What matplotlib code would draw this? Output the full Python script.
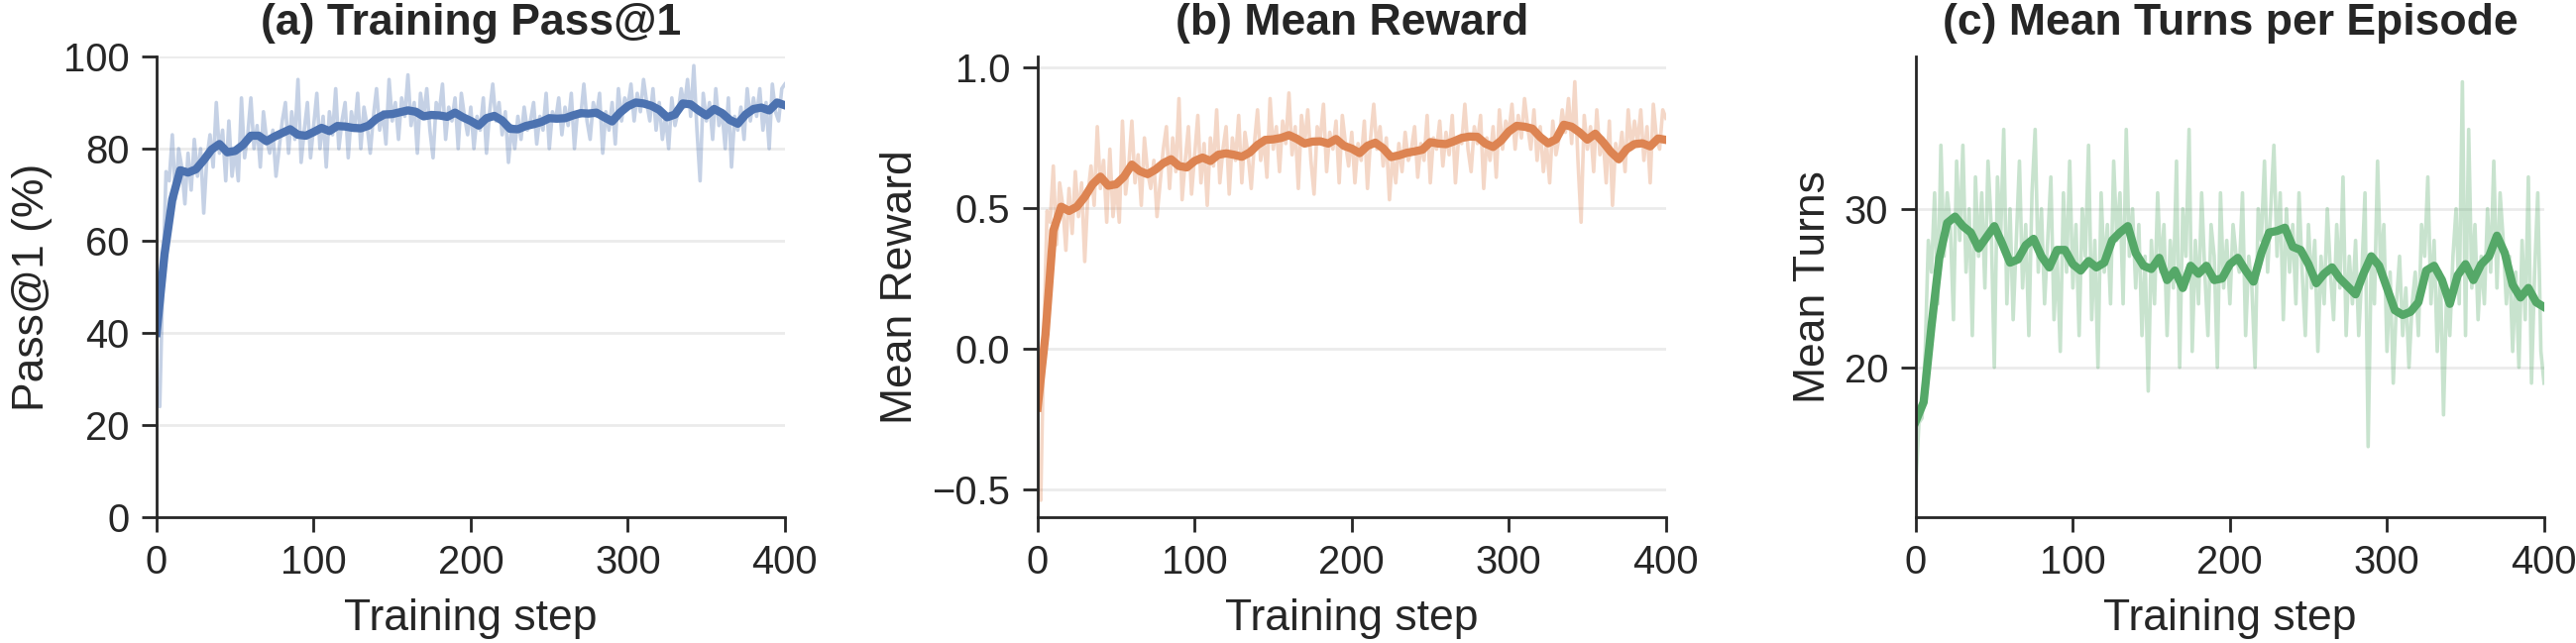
import numpy as np
import matplotlib
matplotlib.use('Agg')
import matplotlib.pyplot as plt

plt.rcParams['font.family'] = ['Liberation Sans', 'DejaVu Sans']

# raw values every 2 steps, smoothed curves every 5 steps
raw_steps = np.arange(0, 401, 2)
smooth_steps = np.arange(0, 401, 5)

pass_raw = [
    28, 24, 52, 75, 73, 83, 69, 80, 76, 68,
    79, 71, 82, 74, 80, 66, 78, 83, 76, 90,
    79, 84, 73, 86, 74, 80, 73, 91, 78, 83,
    91, 80, 85, 76, 88, 82, 79, 84, 74, 80,
    86, 90, 79, 88, 82, 95, 77, 84, 90, 78,
    85, 92, 80, 87, 76, 88, 83, 93, 80, 86,
    90, 78, 88, 84, 92, 80, 89, 85, 79, 87,
    93, 84, 88, 81, 95, 86, 90, 82, 91, 87,
    96, 85, 90, 79, 92, 87, 93, 84, 78, 90,
    88, 94, 82, 89, 86, 91, 80, 92, 87, 83,
    89, 80, 87, 84, 91, 79, 88, 94, 86, 90,
    83, 88, 77, 85, 80, 87, 82, 89, 84, 86,
    90, 81, 87, 84, 92, 80, 88, 86, 91, 83,
    89, 85, 92, 80, 88, 87, 94, 86, 82, 90,
    87, 92, 79, 88, 84, 90, 81, 93, 86, 91,
    89, 94, 86, 92, 88, 95, 90, 86, 93, 84,
    90, 82, 87, 80, 91, 85, 88, 93, 89, 95,
    87, 98, 84, 73, 92, 86, 90, 82, 93, 85,
    88, 80, 91, 76, 87, 84, 89, 82, 93, 86,
    91, 87, 93, 84, 90, 80, 94, 88, 86, 93,
    94,
]
pass_smooth = [
    40, 57, 69, 75.3, 74.8, 75.5, 77.5, 79.8, 81.0, 79.2,
    79.5, 80.8, 82.8, 82.8, 81.6, 82.6, 83.4, 84.2, 83.0, 82.8,
    83.6, 84.5, 83.8, 84.9, 84.8, 84.5, 84.4, 85.0, 86.5, 87.4,
    87.5, 87.9, 88.3, 88.0, 87.0, 87.3, 87.2, 86.9, 87.8, 86.8,
    86.0, 85.0, 86.6, 87.1, 86.1, 84.3, 84.2, 84.9, 85.3, 85.8,
    86.6, 86.5, 86.6, 87.2, 87.7, 87.6, 87.8, 86.8, 85.9, 87.8,
    89.2, 90.0, 89.8, 89.3, 88.4, 86.8, 87.4, 89.8, 89.6, 88.3,
    87.2, 88.6, 87.7, 86.2, 85.4, 87.4, 88.6, 88.9, 88.3, 90.0,
    89.4,
]

reward_raw = [
    -0.50, -0.54, 0.05, 0.49, 0.45, 0.65, 0.37, 0.59, 0.51, 0.35,
    0.57, 0.41, 0.63, 0.47, 0.59, 0.31, 0.55, 0.65, 0.51, 0.79,
    0.57, 0.67, 0.45, 0.71, 0.47, 0.59, 0.45, 0.81, 0.55, 0.65,
    0.81, 0.59, 0.69, 0.51, 0.75, 0.63, 0.57, 0.67, 0.47, 0.59,
    0.71, 0.79, 0.57, 0.75, 0.63, 0.89, 0.53, 0.67, 0.79, 0.55,
    0.69, 0.83, 0.59, 0.73, 0.51, 0.75, 0.65, 0.85, 0.59, 0.71,
    0.79, 0.55, 0.75, 0.67, 0.83, 0.59, 0.77, 0.69, 0.57, 0.73,
    0.85, 0.67, 0.75, 0.61, 0.89, 0.71, 0.79, 0.63, 0.81, 0.73,
    0.91, 0.69, 0.79, 0.57, 0.83, 0.73, 0.85, 0.67, 0.55, 0.79,
    0.75, 0.87, 0.63, 0.77, 0.71, 0.81, 0.59, 0.83, 0.73, 0.65,
    0.77, 0.59, 0.73, 0.67, 0.81, 0.57, 0.75, 0.87, 0.71, 0.79,
    0.65, 0.75, 0.53, 0.69, 0.59, 0.73, 0.63, 0.77, 0.67, 0.71,
    0.79, 0.61, 0.73, 0.67, 0.83, 0.59, 0.75, 0.71, 0.81, 0.65,
    0.77, 0.69, 0.83, 0.59, 0.75, 0.73, 0.87, 0.71, 0.63, 0.79,
    0.73, 0.83, 0.57, 0.75, 0.67, 0.79, 0.61, 0.85, 0.71, 0.81,
    0.77, 0.87, 0.71, 0.83, 0.75, 0.89, 0.79, 0.71, 0.85, 0.67,
    0.79, 0.63, 0.73, 0.59, 0.81, 0.69, 0.75, 0.85, 0.77, 0.89,
    0.73, 0.95, 0.67, 0.45, 0.83, 0.71, 0.79, 0.63, 0.85, 0.69,
    0.75, 0.59, 0.81, 0.51, 0.73, 0.67, 0.77, 0.63, 0.85, 0.71,
    0.81, 0.73, 0.85, 0.67, 0.79, 0.59, 0.87, 0.75, 0.71, 0.85,
    0.82,
]
reward_smooth = [
    -0.21, 0.05, 0.42, 0.505, 0.49, 0.505, 0.54, 0.585, 0.612, 0.58,
    0.585, 0.612, 0.655, 0.632, 0.621, 0.637, 0.660, 0.674, 0.650, 0.645,
    0.668, 0.680, 0.668, 0.690, 0.695, 0.690, 0.683, 0.698, 0.725, 0.743,
    0.745, 0.750, 0.760, 0.747, 0.730, 0.737, 0.738, 0.730, 0.746, 0.722,
    0.712, 0.696, 0.722, 0.733, 0.713, 0.682, 0.688, 0.697, 0.702, 0.708,
    0.735, 0.730, 0.728, 0.738, 0.750, 0.755, 0.754, 0.730, 0.718, 0.740,
    0.773, 0.793, 0.790, 0.783, 0.753, 0.731, 0.745, 0.797, 0.790, 0.770,
    0.744, 0.765, 0.735, 0.700, 0.674, 0.710, 0.728, 0.731, 0.720, 0.748,
    0.743,
]

turns_raw = [
    12.5, 16.5, 16.8, 21, 28, 26, 31, 24, 34, 27,
    31, 29, 23, 33, 28, 34, 26, 30, 22, 32,
    27, 31, 25, 33, 29, 20, 32, 28, 35, 24,
    30, 23, 28, 33, 25, 29, 22, 31, 35, 26,
    30, 24, 28, 32, 23, 27, 21, 31, 26, 33,
    25, 29, 22, 30, 27, 34, 23, 28, 20, 31,
    26, 29, 24, 33, 28, 31, 24, 35, 27, 30,
    25, 29, 22, 27, 18.5, 28, 24, 31, 26, 29,
    22, 28, 25, 33, 20, 30, 27, 35, 21, 28,
    24, 31, 26, 22, 29, 27, 20, 31, 25, 28,
    24, 29, 27, 26, 31, 22, 27, 25, 20, 30,
    28, 33, 26, 30, 34, 27, 31, 23, 30, 26,
    29, 24, 31, 26, 22, 29, 25, 28, 21, 27,
    24, 30, 26, 23, 29, 25, 32, 22, 27, 24,
    28, 22, 26, 31, 15, 27, 24, 33, 26, 29,
    21, 26, 19, 24, 27, 22, 25, 20, 24, 26,
    22, 29, 27, 32, 24, 28, 21, 26, 17, 25,
    22, 27, 30, 24, 38, 22, 35, 25, 29, 23,
    27, 24, 30, 26, 33, 25, 31, 28, 24, 27,
    21, 26, 20, 28, 23, 32, 19, 26, 31, 21,
    19,
]
turns_smooth = [
    16.6, 17.8, 22.6, 26.9, 29.1, 29.5, 28.9, 28.5, 27.5, 28.2,
    28.9, 27.8, 26.6, 26.8, 27.7, 28.1, 27.0, 26.3, 27.4, 27.4,
    26.5, 26.1, 26.7, 26.3, 26.6, 28.0, 28.5, 28.9, 27.2, 26.4,
    26.2, 26.9, 25.5, 26.1, 25.0, 26.4, 25.9, 26.4, 25.5, 25.6,
    26.5, 26.9, 26.1, 25.4, 27.2, 28.5, 28.6, 28.8, 27.6, 27.4,
    26.5, 25.3, 25.9, 26.3, 25.6, 25.1, 24.6, 25.9, 27.0, 26.4,
    25.0, 23.6, 23.3, 23.5, 24.1, 26.1, 26.4, 25.5, 24.0, 25.8,
    26.5, 25.5, 26.5, 27.0, 28.3, 27.2, 25.2, 24.4, 25.0, 24.1,
    23.8,
]

colors = ['#4C72B0', '#DD8452', '#55A868']
titles = ['(a) Training Pass@1', '(b) Mean Reward', '(c) Mean Turns per Episode']
ylabels = ['Pass@1 (%)', 'Mean Reward', 'Mean Turns']
raws = [pass_raw, reward_raw, turns_raw]
smooths = [pass_smooth, reward_smooth, turns_smooth]
ylims = [(0, 100), (-0.60, 1.04), (10.55, 39.6)]
yticks = [[0, 20, 40, 60, 80, 100], [-0.5, 0.0, 0.5, 1.0], [20, 30]]
lefts = [0.0608, 0.4028, 0.7437]

fig = plt.figure(figsize=(12.995, 3.245), dpi=200)

for i in range(3):
    ax = fig.add_axes([lefts[i], 0.1957, 0.2439, 0.7165])
    ax.plot(raw_steps, raws[i], color=colors[i], alpha=0.32, lw=1.3)
    ax.plot(smooth_steps, smooths[i], color=colors[i], lw=3.0)
    ax.set_xlim(0, 400)
    ax.set_ylim(*ylims[i])
    ax.set_xticks([0, 100, 200, 300, 400])
    ax.set_yticks(yticks[i])
    if i == 1:
        ax.set_yticklabels(['\u22120.5', '0.0', '0.5', '1.0'])
    ax.grid(axis='y', color='#ebebeb', lw=1.0)
    ax.set_axisbelow(True)
    for s in ['top', 'right']:
        ax.spines[s].set_visible(False)
    for s in ['left', 'bottom']:
        ax.spines[s].set_color('#262626')
        ax.spines[s].set_linewidth(1.0)
    ax.tick_params(direction='out', length=5.4, width=1.0, color='#262626',
                   labelsize=14.4, labelcolor='#262626', pad=4.5)
    ax.set_xlabel('Training step', fontsize=16, color='#262626', labelpad=6)
    ax.set_ylabel(ylabels[i], fontsize=16, color='#262626')
    ax.set_title(titles[i], fontsize=16, fontweight='bold', color='#262626', pad=8)

fig.savefig('out.png', dpi=200)
